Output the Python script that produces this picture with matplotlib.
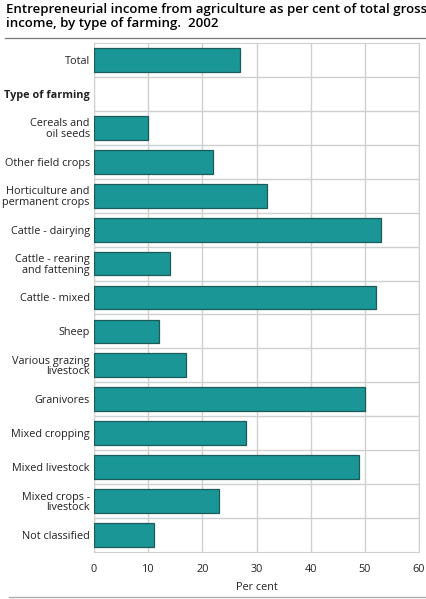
import matplotlib.pyplot as plt

categories = ['Total', 'Type of farming', 'Cereals and\noil seeds', 'Other field crops',
              'Horticulture and\npermanent crops', 'Cattle - dairying',
              'Cattle - rearing\nand fattening', 'Cattle - mixed', 'Sheep',
              'Various grazing\nlivestock', 'Granivores', 'Mixed cropping',
              'Mixed livestock', 'Mixed crops -\nlivestock', 'Not classified']
values = [27, None, 10, 22, 32, 53, 14, 52, 12, 17, 50, 28, 49, 23, 11]
x_ticks = [0, 10, 20, 30, 40, 50, 60]

plt.rcParams['font.family'] = ['Open Sans', 'DejaVu Sans']

fig = plt.figure(figsize=(4.26, 5.99), dpi=100)
ax = fig.add_axes([94 / 426, 1 - 552 / 599, 325 / 426, 509 / 599])

ys = list(range(len(categories)))
for y, v in zip(ys, values):
    if v is None:
        continue
    ax.barh(y, v, height=0.7, color='#1a9696', edgecolor='#1d5a5a', linewidth=0.9, zorder=3)

ax.set_ylim(len(categories) - 0.5, -0.5)
ax.set_xlim(0, 60)
ax.set_xticks(x_ticks)
ax.set_yticks(ys)
ax.set_yticklabels(categories, fontsize=7.8, color='#222222', linespacing=0.95)
ax.get_yticklabels()[1].set_fontweight('bold')
ax.set_yticks([y + 0.5 for y in ys[:-1]], minor=True)
ax.tick_params(axis='x', length=0, labelsize=7.8, colors='#222222', pad=9)
ax.tick_params(axis='y', which='both', length=0, pad=3)
ax.grid(axis='x', color='#d0d0d0', linewidth=1, zorder=0)
ax.grid(axis='y', which='minor', color='#d0d0d0', linewidth=1, zorder=0)
for s in ax.spines.values():
    s.set_color('#d0d0d0')
ax.set_xlabel('Per cent', fontsize=7.8, color='#222222', labelpad=5)

fig.text(6 / 426, 1 - 3 / 599,
         'Entrepreneurial income from agriculture as per cent of total gross\nincome, by type of farming.  2002',
         fontsize=9.5, fontweight='semibold', va='top', ha='left', linespacing=1.1)
fig.add_artist(plt.Line2D([5 / 426, 1], [1 - 38 / 599] * 2, color='#777777', linewidth=0.9))
fig.add_artist(plt.Line2D([9 / 426, 1], [1 - 597 / 599] * 2, color='#aaaaaa', linewidth=0.9))

fig.savefig('out.png', dpi=100)
